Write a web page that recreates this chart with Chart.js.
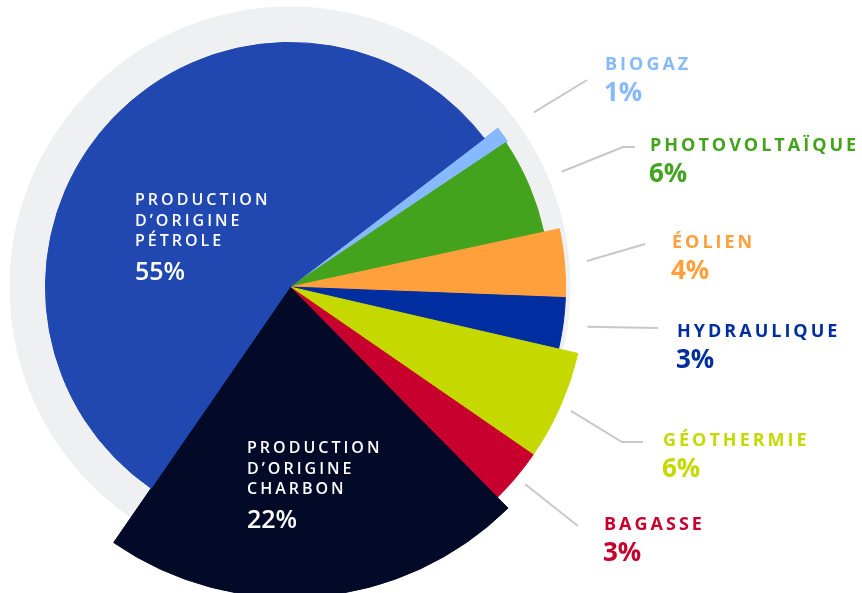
<!DOCTYPE html>
<html lang="fr">
<head>
<meta charset="utf-8">
<script src="https://cdn.jsdelivr.net/npm/chart.js@4.4.1/dist/chart.umd.min.js"></script>
<style>
    html, body { margin: 0; padding: 0; background: #ffffff; }
    #mix { display: block; }
</style>
</head>
<body>
<canvas id="mix" width="862" height="593"></canvas>
<script>
// data
const categories = ['Biogaz', 'Photovoltaïque', 'Éolien', 'Hydraulique', 'Géothermie', 'Bagasse', 'Production d’origine charbon', 'Production d’origine pétrole'];
const shares = [1, 6, 4, 3, 6, 3, 22, 55];
const labelText = [['BIOGAZ'], ['PHOTOVOLTAÏQUE'], ['ÉOLIEN'], ['HYDRAULIQUE'], ['GÉOTHERMIE'], ['BAGASSE'], ['PRODUCTION', 'D’ORIGINE', 'CHARBON'], ['PRODUCTION', 'D’ORIGINE', 'PÉTROLE']];

//--------------------------//
// styles
const colors = ['#86b9ff', '#43a31d', '#ffa03c', '#002d9f', '#c5d900', '#c8002d', '#030a28', '#2147b0'];
const radiusFactor = [0.936, 0.929, 0.986, 0.986, 1.057, 1.057, 1.111, 0.875];
const FONT = '"Open Sans", "Noto Sans", sans-serif';

// outside labels: leader start radius, then leader points, then text position
const outside = [
    { r0: 300, path: [[587, 80]], x: 605, y: 70 },
    { r0: 295, path: [[623, 147], [635, 147]], x: 650, y: 151 },
    { r0: 298, path: [[645, 244]], x: 672, y: 248 },
    { r0: 300, path: [[658, 328]], x: 677, y: 337 },
    { r0: 307, path: [[622, 442], [643, 442]], x: 663, y: 446 },
    { r0: 307, path: [[578, 526]], x: 604, y: 530 }
];
const inside = [
    { x: 247, y: 453 },
    { x: 135, y: 205 }
];

const shapePlugin = {
    id: 'shape',
    afterDatasetsUpdate(chart) {
        const meta = chart.getDatasetMeta(0);
        const base = meta.controller.outerRadius;
        meta.data.forEach((arc, i) => {
            arc.outerRadius = base * radiusFactor[i];
        });
    },
    beforeDatasetsDraw(chart) {
        const meta = chart.getDatasetMeta(0);
        const arc = meta.data[0];
        const ctx = chart.ctx;
        ctx.save();
        ctx.fillStyle = '#eff0f2';
        ctx.beginPath();
        ctx.arc(arc.x, arc.y, meta.controller.outerRadius + 1, 0, Math.PI * 2);
        ctx.fill();
        ctx.restore();
    },
    afterDatasetsDraw(chart) {
        const meta = chart.getDatasetMeta(0);
        const ctx = chart.ctx;
        ctx.save();
        ctx.textAlign = 'left';
        ctx.textBaseline = 'alphabetic';

        outside.forEach((o, i) => {
            const arc = meta.data[i];
            const mid = (arc.startAngle + arc.endAngle) / 2;
            ctx.strokeStyle = '#c6c8cc';
            ctx.lineWidth = 2;
            ctx.beginPath();
            ctx.moveTo(arc.x + o.r0 * Math.cos(mid), arc.y + o.r0 * Math.sin(mid));
            o.path.forEach(p => ctx.lineTo(p[0], p[1]));
            ctx.stroke();

            ctx.fillStyle = colors[i];
            ctx.font = 'bold 18px ' + FONT;
            ctx.letterSpacing = '3px';
            ctx.fillText(labelText[i][0], o.x, o.y);
            ctx.font = 'bold 26px ' + FONT;
            ctx.letterSpacing = '0px';
            ctx.fillText(shares[i] + '%', o.x - 1, o.y + 31);
        });

        inside.forEach((p, k) => {
            const i = 6 + k;
            ctx.fillStyle = '#ffffff';
            ctx.font = '600 16px ' + FONT;
            ctx.letterSpacing = '3px';
            labelText[i].forEach((line, j) => {
                ctx.fillText(line, p.x, p.y + j * 20.5);
            });
            ctx.font = '600 25px ' + FONT;
            ctx.letterSpacing = '0px';
            ctx.fillText(shares[i] + '%', p.x, p.y + 75);
        });
        ctx.restore();
    }
};

const data = {
    labels: categories,
    datasets: [
        {
            data: shares,
            backgroundColor: colors,
            borderColor: colors,
            borderWidth: 1,
            clip: false
        }
    ]
};

const config = {
    type: 'pie',
    data: data,
    options: {
        responsive: false,
        animation: false,
        rotation: 52.6,
        layout: {
            padding: { left: 10, right: 292, top: 7, bottom: 26 }
        },
        plugins: {
            legend: { display: false },
            tooltip: { enabled: false }
        }
    },
    plugins: [shapePlugin]
};

const mixChart = new Chart(document.getElementById('mix'), config);
</script>
</body>
</html>
